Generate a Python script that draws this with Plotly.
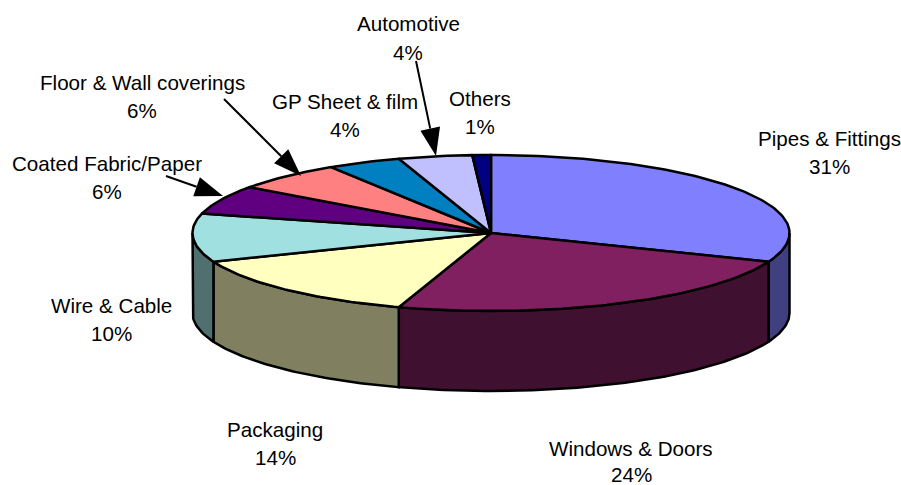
import numpy as np
import plotly.graph_objects as go

# PVC consumption by end use, percent of total
categories = ["Pipes & Fittings", "Windows & Doors", "Packaging", "Wire & Cable",
              "Coated Fabric/Paper", "Floor & Wall coverings", "GP Sheet & film",
              "Automotive", "Others"]
shares = [31, 24, 14, 10, 6, 6, 4, 4, 1]

top_colors = ["#8080FF", "#802060", "#FFFFC0", "#A0E0E0", "#600080",
              "#FF8080", "#0080C0", "#C0C0FF", "#000080"]
side_colors = ["#404080", "#401030", "#808060", "#507070", "#300040",
               "#804040", "#004060", "#606080", "#000040"]

# Pie geometry on a pixel-like coordinate plane
CX, CY, RX, RY, DEPTH = 491.0, 233.0, 298.5, 78.0, 80.0
W, H = 901, 485

# Label centres for each category: (x, name line y, percent line y)
label_pos = [(829, 138, 166), (631, 448, 474), (275, 429, 457),
             (111, 305, 333), (107, 163, 191), (142, 82, 110),
             (345, 101, 129), (408, 23, 52), (480, 98, 126)]

# Leader arrows: category index -> (tail x, tail y, tip x, tip y)
leaders = {4: (166, 176, 223, 196), 5: (224, 99, 301, 176), 7: (416, 61, 436, 156)}
HEAD_LEN, HEAD_WIDTH = 28.0, 20.0


def rim(start_deg, end_deg, drop=0.0):
    """Points along the ellipse, clockwise from twelve o'clock."""
    n = max(2, int(abs(end_deg - start_deg)) + 2)
    t = np.radians(np.linspace(start_deg, end_deg, n))
    return CX + RX * np.sin(t), CY - RY * np.cos(t) + drop


def outlined(x, y, color):
    return go.Scatter(x=list(x), y=list(y), mode="lines", fill="toself",
                      fillcolor=color, hoverinfo="skip", showlegend=False,
                      line=dict(color="black", width=2.5, shape="linear"))


fig = go.Figure()

edges = np.cumsum([0] + shares) / sum(shares) * 360.0

# Front wall: only the part of each slice between 3 and 9 o'clock is visible
for i in range(len(shares)):
    a, b = max(edges[i], 90.0), min(edges[i + 1], 270.0)
    if a >= b:
        continue
    xt, yt = rim(a, b)
    xb, yb = rim(a, b, DEPTH)
    fig.add_trace(outlined(np.r_[xt, xb[::-1], xt[0]], np.r_[yt, yb[::-1], yt[0]], side_colors[i]))

# Top face
for i in range(len(shares)):
    xt, yt = rim(edges[i], edges[i + 1])
    fig.add_trace(outlined(np.r_[CX, xt, CX], np.r_[CY, yt, CY], top_colors[i]))

# Leader lines with solid triangular heads
for x0, y0, x1, y1 in leaders.values():
    dx, dy = x1 - x0, y1 - y0
    length = np.hypot(dx, dy)
    ux, uy = dx / length, dy / length
    bx, by = x1 - ux * HEAD_LEN, y1 - uy * HEAD_LEN
    px, py = -uy * HEAD_WIDTH / 2, ux * HEAD_WIDTH / 2
    fig.add_trace(go.Scatter(x=[x0, bx], y=[y0, by], mode="lines", hoverinfo="skip",
                             showlegend=False, line=dict(color="black", width=2)))
    fig.add_trace(go.Scatter(x=[x1, bx + px, bx - px, x1], y=[y1, by + py, by - py, y1],
                             mode="lines", fill="toself", fillcolor="black", hoverinfo="skip",
                             showlegend=False, line=dict(color="black", width=0)))

annotations = []
font = dict(family="Liberation Sans, Arial, sans-serif", size=20.6, color="#000000")
for name, share, (lx, y1, y2) in zip(categories, shares, label_pos):
    # Name lines may have descenders, so they get a taller box than the percent lines
    for text, ly, box in ((name, y1, 26), (f"{share}%", y2, 21)):
        annotations.append(dict(x=lx, y=ly, xref="x", yref="y", text=text, showarrow=False,
                                xanchor="center", yanchor="middle", font=font,
                                borderpad=0, height=box, valign="middle"))

fig.update_layout(
    width=W, height=H, margin=dict(l=0, r=0, t=0, b=0),
    paper_bgcolor="white", plot_bgcolor="white", showlegend=False,
    xaxis=dict(range=[0, W], visible=False, fixedrange=True),
    yaxis=dict(range=[H, 0], visible=False, fixedrange=True),
    annotations=annotations,
)

fig.write_html("out.html", config={"displayModeBar": False})
